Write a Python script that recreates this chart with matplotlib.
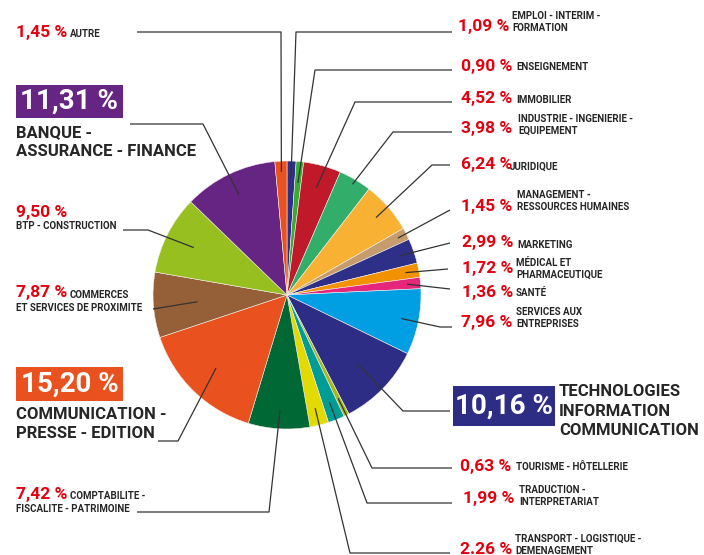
import matplotlib
matplotlib.use("Agg")
import matplotlib.pyplot as plt
import numpy as np
from matplotlib.patches import Rectangle

plt.rcParams['font.family'] = ['Liberation Sans Narrow', 'Roboto', 'DejaVu Sans']

# data, clockwise from 12 o'clock
sectors = ["EMPLOI - INTERIM -\nFORMATION", "ENSEIGNEMENT", "IMMOBILIER",
           "INDUSTRIE - INGENIERIE -\nEQUIPEMENT", "JURIDIQUE",
           "MANAGEMENT -\nRESSOURCES HUMAINES", "MARKETING",
           "MÉDICAL ET\nPHARMACEUTIQUE", "SANTÉ", "SERVICES AUX\nENTREPRISES",
           "TECHNOLOGIES\nINFORMATION\nCOMMUNICATION", "TOURISME - HÔTELLERIE",
           "TRADUCTION -\nINTERPRETARIAT", "TRANSPORT - LOGISTIQUE -\nDEMENAGEMENT",
           "COMPTABILITE -\nFISCALITE - PATRIMOINE", "COMMUNICATION -\nPRESSE - EDITION",
           "COMMERCES\nET SERVICES DE PROXIMITE", "BTP - CONSTRUCTION",
           "BANQUE -\nASSURANCE - FINANCE", "AUTRE"]
shares = [1.09, 0.90, 4.52, 3.98, 6.24, 1.45, 2.99, 1.72, 1.36, 7.96,
          10.16, 0.63, 1.99, 2.26, 7.42, 15.20, 7.87, 9.50, 11.31, 1.45]
share_text = ["1,09 %", "0,90 %", "4,52 %", "3,98 %", "6,24 %", "1,45 %", "2,99 %",
              "1,72 %", "1,36 %", "7,96 %", "10,16 %", "0,63 %", "1,99 %", "2.26 %",
              "7,42 %", "15,20 %", "7,87 %", "9,50 %", "11,31 %", "1,45 %"]
colors = ["#2e3087", "#3aaa35", "#c0192a", "#33ad6a", "#f8b133", "#c69c6d",
          "#2e3087", "#f39200", "#e6267a", "#009fe3", "#2e2d85", "#a8b81a",
          "#009c96", "#e2da00", "#006834", "#e9521e", "#956038", "#97bf1f",
          "#662483", "#e9521e"]

W, H = 704, 555
fig = plt.figure(figsize=(7.04, 5.55), dpi=100)
ax = fig.add_axes([0, 0, 1, 1])

def Y(y):
    return H - y

cx, cy, R = 287, Y(295), 134
wedges, _ = ax.pie(shares, colors=colors, startangle=90, counterclock=False,
                   center=(cx, cy), radius=R,
                   wedgeprops=dict(edgecolor="#f4f0ea", linewidth=0.4))
ax.set_xlim(0, W)
ax.set_ylim(0, H)
ax.set_aspect("auto")
ax.axis("off")

# leader lines: radial fraction of anchor, optional elbow, end (pixel coords)
anchor_frac = [0.88, 0.84, 0.83, 0.96, 0.88, 0.93, 0.90, 0.90, 0.90, 0.87,
               0.74, 0.86, 0.86, 0.87, 0.86, 0.76, 0.67, 0.78, 0.83, 0.92]
elbows = [(296, 32), (315, 70), (355, 102), (393, 132), (432, 165), None, None,
          None, None, (440, 327), (403, 411), (372, 468), (367, 503), (350, 553),
          (269, 512), (178, 441), None, (148, 230), (203, 124), (281, 32)]
ends = [(452, 32), (452, 70), (452, 102), (452, 132), (450, 165), (450, 210),
        (450, 243), (448, 269), (450, 289), (452, 327), (450, 411), (452, 468),
        (452, 503), (450, 553), (137, 512), (158, 441), (153, 309), (123, 230),
        (130, 124), (137, 32)]

for w, f, el, en in zip(wedges, anchor_frac, elbows, ends):
    th = np.deg2rad((w.theta1 + w.theta2) / 2)
    ax_, ay_ = cx + f * R * np.cos(th), cy + f * R * np.sin(th)
    xs, ys = [ax_], [ay_]
    if el is not None:
        xs.append(el[0]); ys.append(Y(el[1]))
    xs.append(en[0]); ys.append(Y(en[1]))
    ax.plot(xs, ys, color="#333333", lw=0.9, solid_capstyle="butt")

RED = "#e3000f"
DARK = "#262626"

def pct(x, y, s):
    ax.text(x, Y(y), s, color=RED, fontsize=12.5, fontweight="bold",
            ha="left", va="center")

def small(x, y, s):
    ax.text(x, Y(y), s, color=DARK, fontsize=7, fontweight="bold",
            ha="left", va="center", linespacing=1.25)

def big(x, y, s):
    ax.text(x, Y(y), s, color=DARK, fontsize=12, fontweight="bold",
            ha="left", va="center", linespacing=1.35)

def boxed(x0, y0, x1, y1, s, c):
    ax.add_patch(Rectangle((x0, Y(y1)), x1 - x0, y1 - y0, color=c, lw=0))
    ax.text((x0 + x1) / 2, Y((y0 + y1) / 2), s, color="white", fontsize=20,
            fontweight="bold", ha="center", va="center")

# right side labels
pct(458, 26, share_text[0]); small(512, 22, sectors[0])
pct(461, 66, share_text[1]); small(516, 67, sectors[1])
pct(461, 99, share_text[2]); small(516, 100, sectors[2])
pct(461, 129, share_text[3]); small(518, 125, sectors[3])
pct(461, 165, share_text[4]); small(510, 167, sectors[4])
pct(461, 206, share_text[5]); small(517, 201, sectors[5])
pct(462, 243, share_text[6]); small(517, 245, sectors[6])
pct(462, 268, share_text[7]); small(516, 269, sectors[7])
pct(462, 292, share_text[8]); small(516, 293, sectors[8])
pct(461, 322, share_text[9]); small(516, 318, sectors[9])
boxed(453, 386, 555, 426, share_text[10], colors[10])
big(559, 411, sectors[10])
pct(460, 466, share_text[11]); small(516, 467, sectors[11])
pct(463, 498, share_text[12]); small(519, 496, sectors[12])
pct(460, 549, share_text[13]); small(515, 545, sectors[13])

# left side labels
pct(16, 494, share_text[14])
small(70, 496, sectors[14].split("\n")[0]); small(16, 509, sectors[14].split("\n")[1])
boxed(16, 367, 123, 401, share_text[15], colors[15])
big(16, 424, sectors[15])
pct(16, 293, share_text[16])
small(70, 295, sectors[16].split("\n")[0]); small(16, 308, sectors[16].split("\n")[1])
pct(16, 212, share_text[17]); small(16, 226, sectors[17])
boxed(16, 85, 123, 118, share_text[18], colors[18])
big(16, 142, sectors[18])
pct(16, 32, share_text[19]); small(70, 34, sectors[19])

fig.savefig("out.png", dpi=100)
